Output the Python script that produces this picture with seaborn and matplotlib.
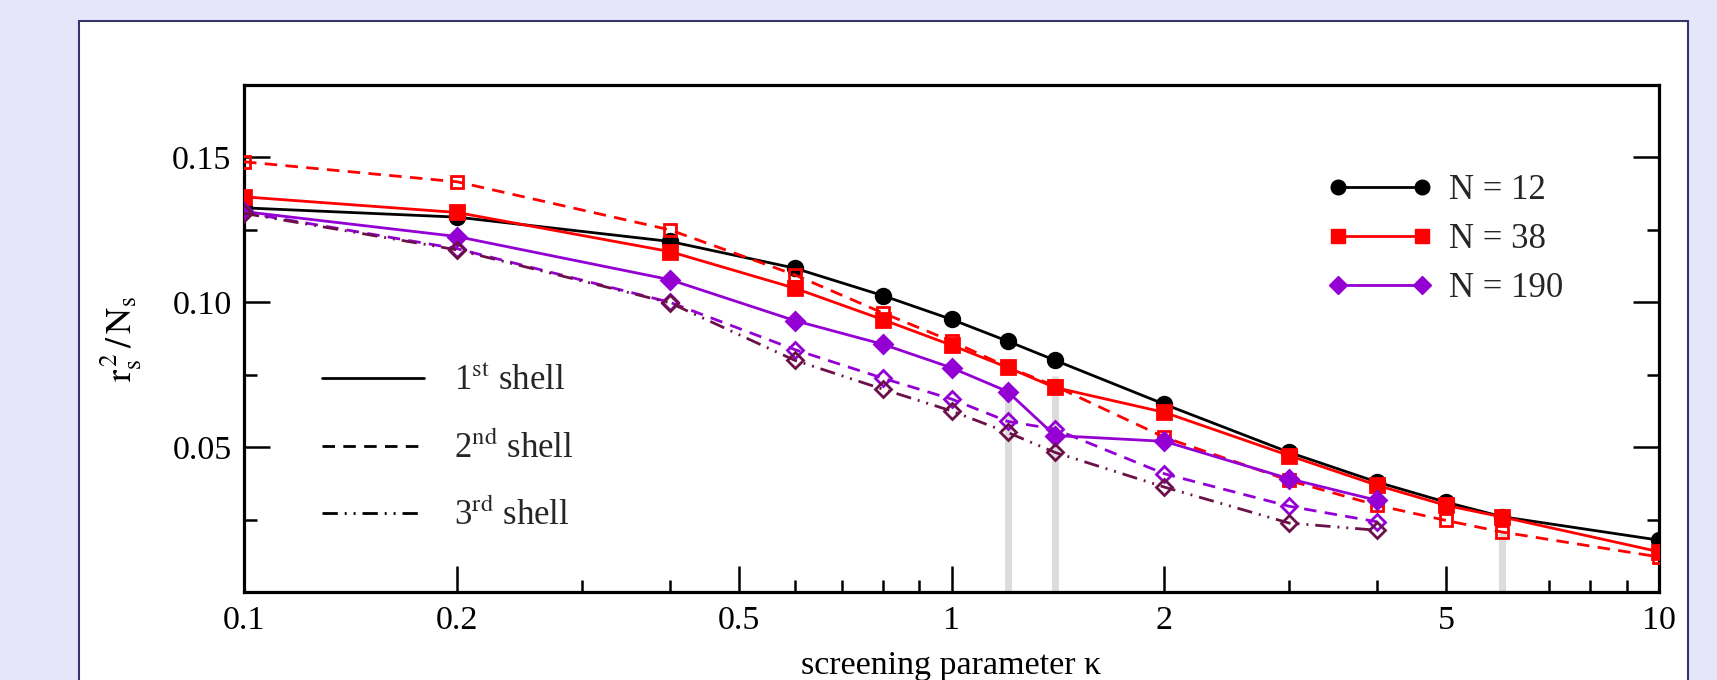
import numpy as np
import pandas as pd
import matplotlib
matplotlib.use('Agg')
import matplotlib.pyplot as plt
import seaborn as sns
from matplotlib.lines import Line2D
from matplotlib.patches import Rectangle
from matplotlib.ticker import FixedLocator, FixedFormatter, NullFormatter

# Data
kappa = [0.1, 0.2, 0.4, 0.6, 0.8, 1.0, 1.2, 1.4, 2, 3, 4, 5, 6, 10]
kappa_190 = [0.1, 0.2, 0.4, 0.6, 0.8, 1.0, 1.2, 1.4, 2, 3, 4]

n12_shell1 = [0.1326, 0.1294, 0.1210, 0.1118, 0.1023, 0.0941, 0.0866, 0.0800,
              0.0648, 0.0482, 0.0379, 0.0310, 0.0260, 0.0179]
n38_shell1 = [0.1364, 0.1310, 0.1175, 0.1049, 0.0940, 0.0852, 0.0775, 0.0706,
              0.0620, 0.0471, 0.0368, 0.0299, 0.0259, 0.0139]
n38_shell2 = [0.1485, 0.1416, 0.1250, 0.1095, 0.0963, 0.0866, 0.0777, 0.0711,
              0.0534, 0.0385, 0.0299, 0.0247, 0.0207, 0.0121]
n190_shell1 = [0.1313, 0.1227, 0.1078, 0.0937, 0.0855, 0.0774, 0.0692, 0.0540,
               0.0520, 0.0391, 0.0316]
n190_shell2 = [0.1310, 0.1185, 0.1000, 0.0837, 0.0738, 0.0666, 0.0589, 0.0562,
               0.0408, 0.0296, 0.0242]
n190_shell3 = [0.1307, 0.1181, 0.0998, 0.0800, 0.0700, 0.0625, 0.0551, 0.0482,
               0.0362, 0.0238, 0.0213]

# grey transition markers
bar_kappa = [1.2, 1.4, 6]
bar_top = [0.069, 0.0745, 0.0207]

x_major = [0.1, 0.2, 0.5, 1, 2, 5, 10]
x_major_labels = ['0.1', '0.2', '0.5', '1', '2', '5', '10']
x_minor = [0.3, 0.4, 0.6, 0.7, 0.8, 0.9, 3, 4, 6, 7, 8, 9]
y_major = [0.05, 0.10, 0.15]
y_major_labels = ['0.05', '0.10', '0.15']
y_minor = [0.025, 0.075, 0.125]

BLACK = '#000000'
RED = '#ff0000'
VIOLET = '#9400d3'
MAROON = '#6b1048'
dash2 = (0, (4.5, 3))
dash3 = (0, (5.5, 2.5, 0.7, 2.5, 0.7, 2.5))

sns.set_theme(style='ticks')
plt.rcParams['font.family'] = ['Liberation Serif', 'DejaVu Serif']
plt.rcParams['mathtext.fontset'] = 'stix'

fig = plt.figure(figsize=(17.17, 6.8), dpi=100)
fig.patch.set_facecolor('#e6e6fa')
panel = Rectangle((79 / 1717, -0.1), (1688 - 79) / 1717, (680 - 21) / 680 + 0.1,
                  transform=fig.transFigure, facecolor='white',
                  edgecolor='#35356a', lw=1.5, zorder=-10)
fig.patches.append(panel)

ax = fig.add_axes([244 / 1717, 88 / 680, 1415 / 1717, 507 / 680])
ax.set_facecolor('white')

ax.vlines(bar_kappa, 0, bar_top, color='#dcdcdc', lw=5, zorder=1)

series = [
    (kappa, n12_shell1, BLACK, 'o', '-', True, 10.5),
    (kappa, n38_shell1, RED, 's', '-', True, 10),
    (kappa, n38_shell2, RED, 's', dash2, False, 9),
    (kappa_190, n190_shell1, VIOLET, 'D', '-', True, 9.5),
    (kappa_190, n190_shell2, VIOLET, 'D', dash2, False, 8),
    (kappa_190, n190_shell3, MAROON, 'D', dash3, False, 8),
]
for xs, ys, col, mk, ls, filled, ms in series:
    df = pd.DataFrame({'kappa': xs, 'r2': ys})
    sns.lineplot(data=df, x='kappa', y='r2', ax=ax, color=col, lw=2.0,
                 linestyle=ls, marker=mk, markersize=ms,
                 markerfacecolor=col if filled else 'none',
                 markeredgecolor=col, markeredgewidth=2.0,
                 sort=False, legend=False, zorder=3)

ax.set_xscale('log')
ax.set_xlim(0.1, 10)
ax.set_ylim(0, 0.175)
ax.xaxis.set_major_locator(FixedLocator(x_major))
ax.xaxis.set_major_formatter(FixedFormatter(x_major_labels))
ax.xaxis.set_minor_locator(FixedLocator(x_minor))
ax.xaxis.set_minor_formatter(NullFormatter())
ax.yaxis.set_major_locator(FixedLocator(y_major))
ax.yaxis.set_major_formatter(FixedFormatter(y_major_labels))
ax.yaxis.set_minor_locator(FixedLocator(y_minor))

ax.tick_params(which='both', direction='in', top=False, right=True,
               color='black', width=1.8, labelsize=24.5, labelcolor='black')
ax.tick_params(which='major', length=19)
ax.tick_params(which='minor', length=9)
ax.tick_params(axis='x', which='major', pad=10)
ax.tick_params(axis='y', which='major', pad=9)
for sp in ax.spines.values():
    sp.set_color('black')
    sp.set_linewidth(2.3)
    sp.set_visible(True)

ax.set_xlabel('screening parameter \u03ba', fontsize=24.5, color='black', labelpad=10)
ax.set_ylabel(r'$\mathrm{r_s^{\,2}\,/\,N_s}$', fontsize=26, color='black', labelpad=20)

# legend for particle number
n_handles = [
    Line2D([], [], color=BLACK, lw=2, marker='o', ms=10.5),
    Line2D([], [], color=RED, lw=2, marker='s', ms=10),
    Line2D([], [], color=VIOLET, lw=2, marker='D', ms=9.5),
]
leg1 = ax.legend(n_handles, ['N = 12', 'N = 38', 'N = 190'], loc='upper left',
                 bbox_to_anchor=(0.766, 0.825), frameon=False, fontsize=25,
                 numpoints=2, handlelength=3.0, handletextpad=0.5,
                 labelspacing=0.47, borderpad=0, borderaxespad=0)
ax.add_artist(leg1)

shell_handles = [
    Line2D([], [], color=BLACK, lw=2, linestyle='-'),
    Line2D([], [], color=BLACK, lw=2, linestyle=dash2),
    Line2D([], [], color=BLACK, lw=2, linestyle=dash3),
]
ax.legend(shell_handles,
          [r'1$^{\mathrm{st}}$ shell', r'2$^{\mathrm{nd}}$ shell', r'3$^{\mathrm{rd}}$ shell'],
          loc='upper left', bbox_to_anchor=(0.055, 0.447), frameon=False,
          fontsize=25, handlelength=2.95, handletextpad=0.85,
          labelspacing=0.95, borderpad=0, borderaxespad=0)

fig.savefig('out.png', dpi=100, facecolor=fig.get_facecolor())
